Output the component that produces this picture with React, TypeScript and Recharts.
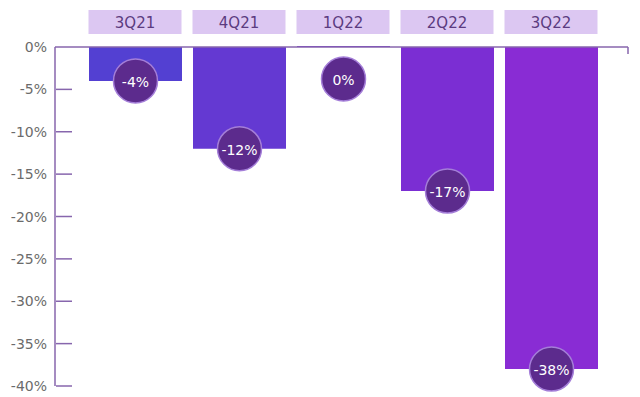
import React from 'react';
import * as R from 'recharts';
import { BarChart, Bar, XAxis, YAxis, Cell, LabelList } from 'recharts';

const quarters = ['3Q21', '4Q21', '1Q22', '2Q22', '3Q22'];
const changes = [-4, -12, 0, -17, -38];
const barColors = ['#5340d2', '#6439d2', '#7132d2', '#7b2ed3', '#892cd4'];
const yTicks = [0, -5, -10, -15, -20, -25, -30, -35, -40];

const data = quarters.map((q, i) => ({ q, v: changes[i] }));

const FONT = '"DejaVu Sans", "Noto Sans", sans-serif';
const AXIS = '#8766ad';

const XTick = (props: any) => {
  const { x, y, payload } = props;
  const w = 93;
  const h = 24;
  return (
    <g>
      <rect x={x - w / 2} y={y - h} width={w} height={h} fill="#dcc7f2" />
      <text x={x} y={y - h / 2 + 1} textAnchor="middle" dominantBaseline="central" fontSize={15} fill="#5b3b80" fontFamily={FONT}>
        {payload.value}
      </text>
    </g>
  );
};

const YTick = (props: any) => {
  const { x, y, payload } = props;
  return (
    <g>
      <text x={x} y={y} textAnchor="end" dominantBaseline="central" fontSize={14} fill="#6b6b6b" fontFamily={FONT}>
        {payload.value + '%'}
      </text>
      {payload.value !== 0 && (
        <line x1={x + 9} x2={x + 25} y1={y} y2={y} stroke={AXIS} strokeWidth={1.5} />
      )}
    </g>
  );
};

const Bubble = (props: any) => {
  const { x, y, width, height, value } = props;
  const top = Math.min(y, y + height);
  const bottom = Math.max(y, y + height);
  const cx = x + width / 2;
  const cy = Math.max(bottom, top + 33);
  return (
    <g>
      <circle cx={cx} cy={cy} r={22} fill="#5c2b8d" stroke="#a47ed8" strokeWidth={1.5} />
      <text x={cx} y={cy + 1} textAnchor="middle" dominantBaseline="central" fontSize={14} fill="#ffffff" fontFamily={FONT}>
        {value + '%'}
      </text>
    </g>
  );
};

const EndTick = () => {
  const usePA = (R as any).usePlotArea;
  const pa = usePA ? usePA() : null;
  if (!pa) return null;
  const xr = pa.x + pa.width;
  return <line x1={xr} x2={xr} y1={pa.y} y2={pa.y + 7} stroke={AXIS} strokeWidth={1.5} />;
};

export default function App() {
  return (
    <div style={{ position: 'absolute', left: 0, top: 0, background: '#fff' }}>
      <BarChart width={640} height={397} data={data} margin={{ top: 0, right: 12, bottom: 11, left: 0 }}>
        <XAxis
          dataKey="q"
          orientation="top"
          height={47}
          padding={{ left: 28, right: 25 }}
          axisLine={{ stroke: AXIS, strokeWidth: 1.5 }}
          tickLine={false}
          tickSize={0}
          tickMargin={13}
          tick={<XTick />}
          interval={0}
        />
        <YAxis
          domain={[-40, 0]}
          ticks={yTicks}
          width={55}
          axisLine={{ stroke: AXIS, strokeWidth: 1.5 }}
          tickLine={false}
          tickSize={0}
          tickMargin={8}
          tick={<YTick />}
          interval={0}
        />
        <Bar dataKey="v" barSize={93} minPointSize={1} isAnimationActive={false}>
          {data.map((d, i) => (
            <Cell key={d.q} fill={barColors[i]} />
          ))}
          <LabelList dataKey="v" content={<Bubble />} />
        </Bar>
        <EndTick />
      </BarChart>
    </div>
  );
}
